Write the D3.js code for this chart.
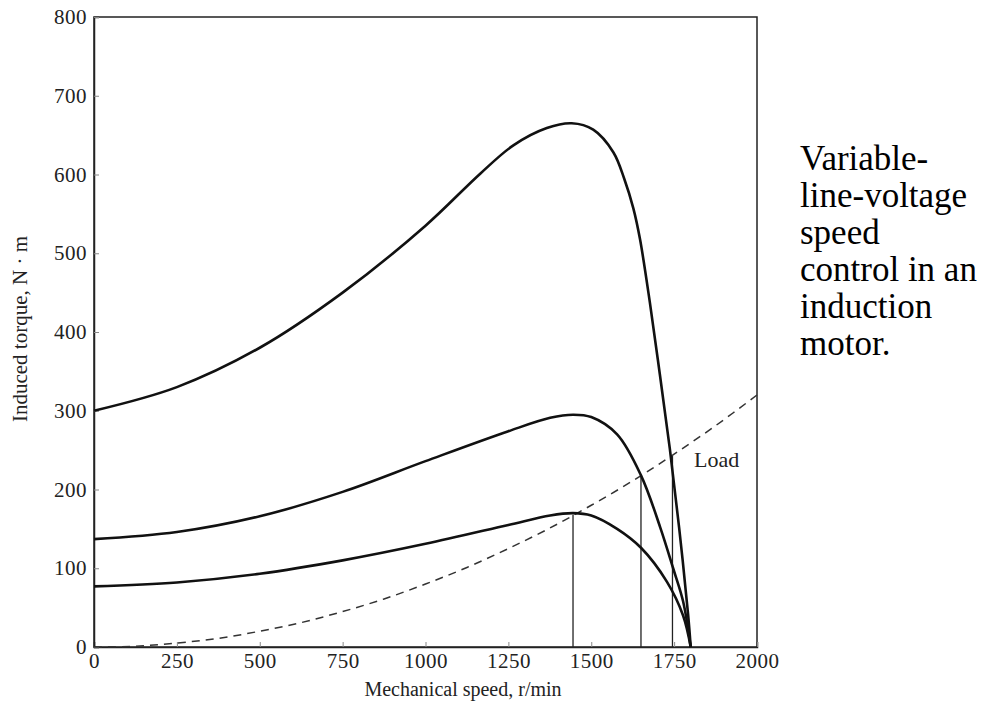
<!DOCTYPE html>
<html>
<head>
<meta charset="utf-8">
<script src="https://cdn.jsdelivr.net/npm/d3@7"></script>
<style>
  body { margin: 0; background: #fff; }
  svg { display: block; }
  text { font-family: "Liberation Serif", "Times New Roman", serif; }
</style>
</head>
<body>
<script>
// values
const speedTicks = [0, 250, 500, 750, 1000, 1250, 1500, 1750, 2000];
const torqueTicks = [0, 100, 200, 300, 400, 500, 600, 700, 800];

// torque-speed curves [speed r/min, torque N·m]
const highVoltage = [[0,300],[250,330],[500,380],[750,450],[1000,535],[1165,601],[1265,637],[1366,659],
  [1441,665],[1506,657],[1567,628],[1600,594],[1627,557],[1647,518],[1677,437],[1707,346],[1737,252],
  [1765,152],[1792,42],[1800,0]];
const midVoltage = [[0,137],[250,146],[500,166],[750,197],[1000,236],[1250,274],[1376,291],
  [1445,295],[1500,292],[1578,270],[1650,218],[1708,152],[1747,100],[1777,58],[1800,0]];
const lowVoltage = [[0,77],[250,82],[500,93],[750,110],[1000,131],[1250,155],[1376,167],
  [1445,170],[1500,167],[1578,150],[1650,126],[1728,83],[1777,40],[1800,0]];
const load = [[0,0],[125,1],[250,5],[375,11],[500,20],[625,31],[750,45],[875,61],[1000,80],[1125,101],
  [1250,125],[1375,151],[1500,180],[1625,211],[1750,245],[1875,281],[2000,320]];
const operatingPoints = [[1445,168],[1650,218],[1745,243]];

const captionLines = ["Variable-", "line-voltage", "speed", "control in an", "induction", "motor."];

const W = 996, H = 706;
const margin = {left: 94, top: 17};
const width = 663, height = 630;
const serif = "Liberation Serif, Times New Roman, serif";

const svg = d3.select("body").append("svg")
    .attr("width", W)
    .attr("height", H);

const g = svg.append("g")
    .attr("transform", "translate(" + margin.left + "," + margin.top + ")");

const x = d3.scaleLinear().domain([0, 2000]).range([0, width]);
const y = d3.scaleLinear().domain([0, 800]).range([height, 0]);

// frame
g.append("rect")
    .attr("x", 0).attr("y", 0)
    .attr("width", width).attr("height", height)
    .attr("fill", "none")
    .attr("stroke", "#222")
    .attr("stroke-width", 1.5);

const bottomAxis = d3.axisBottom(x)
    .tickValues(speedTicks)
    .tickSize(-5)
    .tickPadding(6)
    .tickFormat(d => d);

g.append("g")
    .attr("class", "bottom axis")
    .attr("transform", "translate(0," + height + ")")
    .call(bottomAxis)
    .call(a => a.select(".domain").attr("stroke", "#222").attr("stroke-width", 1.5))
    .call(a => a.selectAll(".tick line").attr("stroke", "#888"))
    .selectAll("text")
        .attr("font-size", "21px")
        .attr("font-family", serif)
        .attr("letter-spacing", "0.5px")
        .attr("fill", "#222");

const leftAxis = d3.axisLeft(y)
    .tickValues(torqueTicks)
    .tickSize(-5)
    .tickPadding(7)
    .tickFormat(d => d);

g.append("g")
    .attr("class", "left axis")
    .call(leftAxis)
    .call(a => a.select(".domain").attr("stroke", "#222").attr("stroke-width", 1.5))
    .call(a => a.selectAll(".tick line").attr("stroke", "#888"))
    .selectAll("text")
        .attr("font-size", "21px")
        .attr("font-family", serif)
        .attr("letter-spacing", "0.5px")
        .attr("fill", "#222");

// axis titles
svg.append("text")
    .attr("x", 463)
    .attr("y", 696)
    .attr("font-size", "20px")
    .attr("font-family", serif)
    .attr("text-anchor", "middle")
    .attr("fill", "#222")
    .text("Mechanical speed, r/min");

svg.append("text")
    .attr("transform", "translate(27,329) rotate(-90)")
    .attr("font-size", "21px")
    .attr("font-family", serif)
    .attr("text-anchor", "middle")
    .attr("fill", "#222")
    .text("Induced torque, N · m");

// vertical lines at operating points
g.selectAll(".op")
    .data(operatingPoints)
    .enter()
    .append("line")
        .attr("class", "op")
        .attr("x1", d => x(d[0])).attr("x2", d => x(d[0]))
        .attr("y1", y(0)).attr("y2", d => y(d[1]))
        .attr("stroke", "#222")
        .attr("stroke-width", 1.3);

const line = d3.line()
    .x(d => x(d[0]))
    .y(d => y(d[1]))
    .curve(d3.curveCatmullRom.alpha(0.5));

// load curve
g.append("path")
    .datum(load)
    .attr("d", line)
    .attr("fill", "none")
    .attr("stroke", "#333")
    .attr("stroke-width", 1.5)
    .attr("stroke-dasharray", "8,6");

g.selectAll(".torque")
    .data([highVoltage, midVoltage, lowVoltage])
    .enter()
    .append("path")
        .attr("class", "torque")
        .attr("d", line)
        .attr("fill", "none")
        .attr("stroke", "#111")
        .attr("stroke-width", 2.6);

g.append("text")
    .attr("x", x(1810))
    .attr("y", y(228))
    .attr("font-size", "22px")
    .attr("font-family", serif)
    .attr("fill", "#222")
    .text("Load");

// caption on the right
svg.append("g")
    .selectAll("text")
    .data(captionLines)
    .enter()
    .append("text")
        .attr("x", 800)
        .attr("y", (d, i) => 170 + i * 37)
        .attr("font-size", "35px")
        .attr("font-family", serif)
        .attr("fill", "#000")
        .text(d => d);
</script>
</body>
</html>
